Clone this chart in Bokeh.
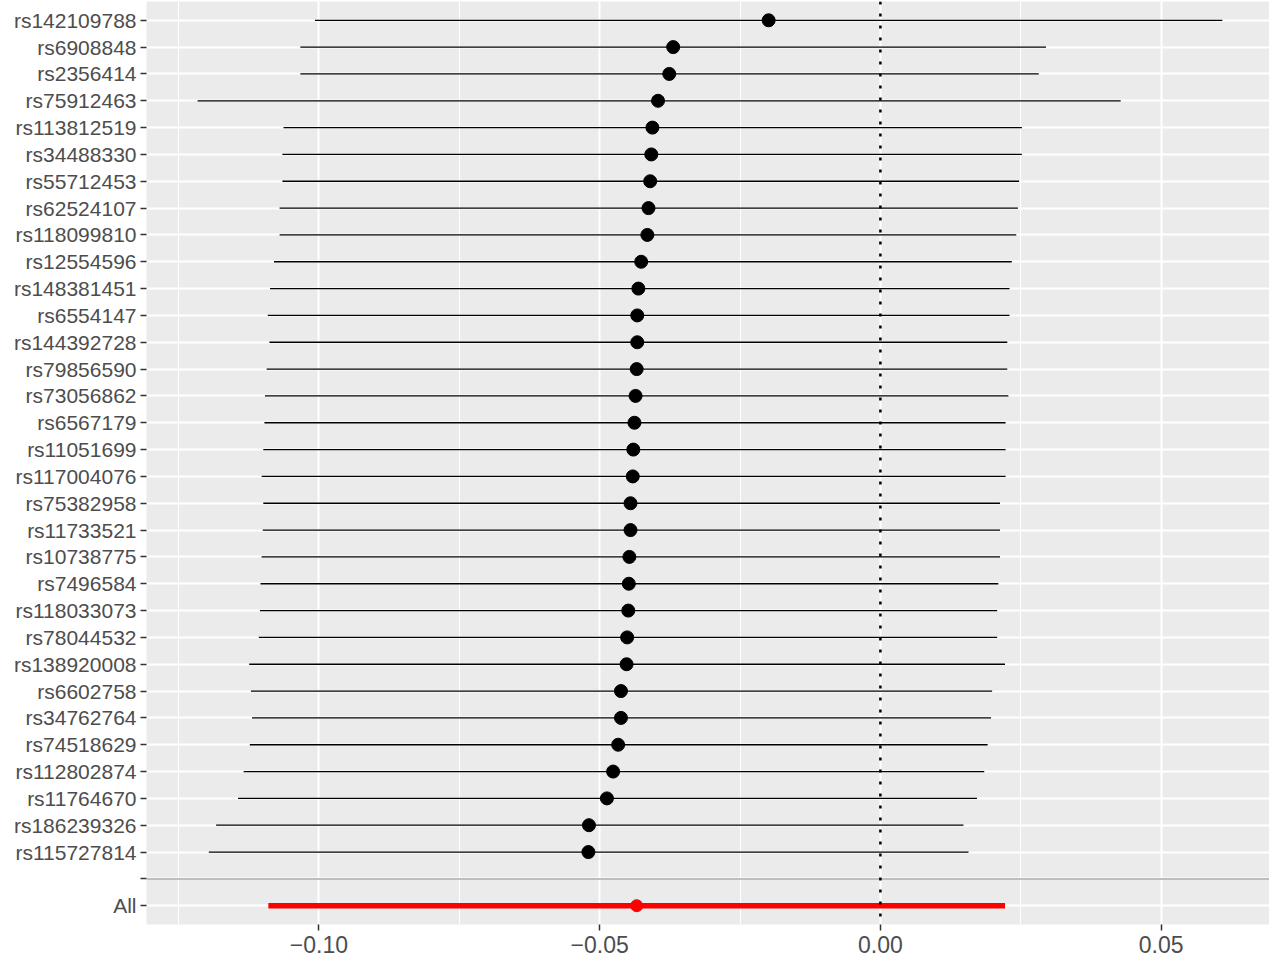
from bokeh.plotting import figure
from bokeh.models import FactorRange, Range1d, FixedTicker, CustomJSTickFormatter, Span
from bokeh.embed import file_html
from bokeh.resources import INLINE

snps = ["rs142109788", "rs6908848", "rs2356414", "rs75912463", "rs113812519",
        "rs34488330", "rs55712453", "rs62524107", "rs118099810", "rs12554596",
        "rs148381451", "rs6554147", "rs144392728", "rs79856590", "rs73056862",
        "rs6567179", "rs11051699", "rs117004076", "rs75382958", "rs11733521",
        "rs10738775", "rs7496584", "rs118033073", "rs78044532", "rs138920008",
        "rs6602758", "rs34762764", "rs74518629", "rs112802874", "rs11764670",
        "rs186239326", "rs115727814"]
beta = [-0.0199, -0.0369, -0.0376, -0.0396, -0.0406, -0.0408, -0.0410, -0.0413,
        -0.0415, -0.0426, -0.0431, -0.0433, -0.0433, -0.0434, -0.0436, -0.0438,
        -0.0440, -0.0441, -0.0445, -0.0445, -0.0447, -0.0448, -0.0449, -0.0451,
        -0.0452, -0.0462, -0.0462, -0.0467, -0.0476, -0.0487, -0.0519, -0.0520]
lower = [-0.1007, -0.1033, -0.1033, -0.1216, -0.1063, -0.1065, -0.1065, -0.1070,
         -0.1070, -0.1080, -0.1087, -0.1091, -0.1088, -0.1093, -0.1096, -0.1097,
         -0.1099, -0.1102, -0.1099, -0.1100, -0.1102, -0.1104, -0.1105, -0.1107,
         -0.1124, -0.1121, -0.1119, -0.1123, -0.1134, -0.1144, -0.1183, -0.1196]
upper = [0.0609, 0.0295, 0.0282, 0.0428, 0.0252, 0.0252, 0.0247, 0.0245,
         0.0242, 0.0234, 0.0230, 0.0230, 0.0226, 0.0226, 0.0228, 0.0223,
         0.0223, 0.0223, 0.0213, 0.0213, 0.0213, 0.0210, 0.0208, 0.0208,
         0.0222, 0.0199, 0.0197, 0.0191, 0.0185, 0.0172, 0.0148, 0.0157]

all_label = ["All"]
all_beta = [-0.0434]
all_lower = [-0.1090]
all_upper = [0.0222]
sep_label = [" "]

x_major = [-0.10, -0.05, 0.0, 0.05]
x_minor = [-0.125, -0.075, -0.025, 0.025]
X_START, X_END = -0.1307, 0.0693

factors = all_label + sep_label + snps[::-1]

p = figure(width=1269, height=960,
           x_range=Range1d(X_START, X_END),
           y_range=FactorRange(factors=factors, range_padding=0.2,
                               range_padding_units="absolute"),
           output_backend="svg", toolbar_location=None,
           min_border_left=146, min_border_right=0,
           min_border_top=1, min_border_bottom=36)

p.background_fill_color = "#EBEBEB"
p.border_fill_color = "white"
p.outline_line_color = None

ticker = FixedTicker(ticks=x_major, minor_ticks=x_minor)
p.xaxis.ticker = ticker
p.xgrid.ticker = ticker
p.xgrid.grid_line_color = "white"
p.xgrid.grid_line_width = 2
p.xgrid.minor_grid_line_color = "white"
p.xgrid.minor_grid_line_width = 1
p.ygrid.grid_line_color = "white"
p.ygrid.grid_line_width = 2

p.xaxis.formatter = CustomJSTickFormatter(
    code="return (tick < -1e-9 ? '\u2212' : '') + Math.abs(tick).toFixed(2);")

for ax in (p.xaxis[0], p.yaxis[0]):
    ax.axis_line_color = None
    ax.major_tick_line_color = "#333333"
    ax.major_tick_line_width = 1.5
    ax.major_tick_in = 0
    ax.major_tick_out = 6
    ax.minor_tick_line_color = None
    ax.major_label_text_color = "#4D4D4D"
    ax.major_label_text_font = "Liberation Sans"

p.yaxis.major_label_standoff = 4
p.xaxis.major_label_standoff = 5
p.yaxis.major_label_text_font_size = "21px"
p.xaxis.major_label_text_font_size = "23px"

zero = Span(location=0, dimension="height", line_color="black",
            line_width=2.5, line_dash="3 9", line_cap="butt")
p.add_layout(zero)

# separator line at the blank level
p.segment(x0=[X_START], x1=[X_END], y0=sep_label, y1=sep_label,
          line_color="#BEBEBE", line_width=2)

p.segment(x0=lower, x1=upper, y0=snps, y1=snps, line_color="black", line_width=1.3)
p.scatter(x=beta, y=snps, size=13, fill_color="black", line_color="black")

p.segment(x0=all_lower, x1=all_upper, y0=all_label, y1=all_label,
          line_color="red", line_width=5.5)
p.scatter(x=all_beta, y=all_label, size=12, fill_color="red", line_color="red")

open("out.html", "w").write(file_html(p, INLINE))
